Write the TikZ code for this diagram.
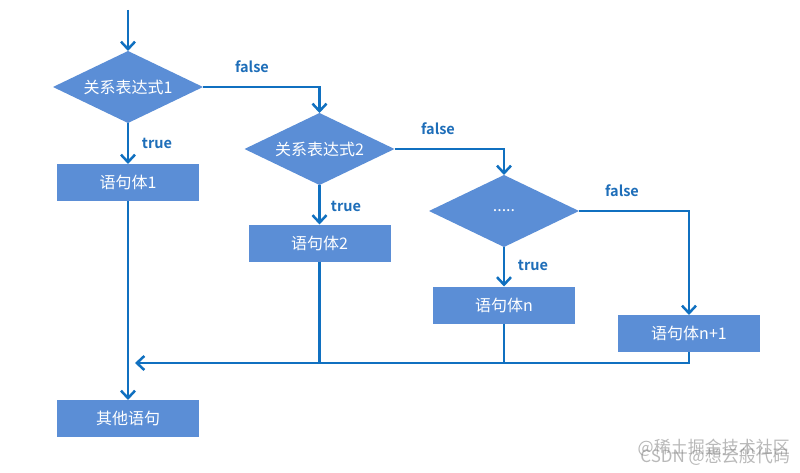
\documentclass[tikz,border=0pt]{standalone}
\usepackage{fontspec}
\newfontfamily\cjk{Noto Sans CJK SC}[BoldFont={Noto Sans CJK SC Bold}]
\usetikzlibrary{shapes.geometric,arrows.meta}
\definecolor{lineblue}{RGB}{16,112,192}
\definecolor{fillblue}{RGB}{91,142,214}
\definecolor{labblue}{RGB}{30,110,185}
\begin{document}
\begin{tikzpicture}[x=1pt,y=-1pt,
  cond/.style={diamond,fill=fillblue,draw=none,inner sep=0pt,outer sep=0pt,aspect=2,
    minimum width=150pt,minimum height=72pt,text=white,font=\cjk\fontsize{16}{19}\selectfont},
  stmt/.style={rectangle,fill=fillblue,draw=none,inner sep=0pt,outer sep=0pt,
    minimum width=142pt,minimum height=37pt,text=white,font=\cjk\fontsize{16}{19}\selectfont},
  lab/.style={text=labblue,font=\cjk\bfseries\fontsize{14.5}{17}\selectfont,inner sep=0pt},
  conn/.style={draw=lineblue,line width=2.5pt},
  arr/.style={conn,-{Straight Barb[length=7.5pt,width=14pt]}},
  wm/.style={text=gray,opacity=0.55,font=\cjk\fontsize{17}{19}\selectfont,inner sep=0pt}
]
\useasboundingbox[fill=white] (0,0) rectangle (800,473);

\coordinate (start) at (128,10);
\node[cond] (c1) at (128,87) {关系表达式1};
\node[stmt] (s1) at (128,182.5) {语句体1};
\node[cond] (c2) at (319.5,149) {关系表达式2};
\node[stmt] (s2) at (319.5,243) {语句体2};
\node[cond] (c3) at (504,211) {.....};
\node[stmt] (s3) at (504,305) {语句体n};
\node[stmt] (s4) at (689,333.5) {语句体n+1};
\node[stmt] (s5) at (128,418.5) {其他语句};

\coordinate (m2) at (319.5,363);
\coordinate (m3) at (504,363);
\coordinate (m4) at (689,363);
\coordinate (mL) at (135,363);

\draw[arr] (start) -- (c1.north);
\draw[arr] (c1.south) -- (s1.north);
\draw[arr] (c1.east) -| (c2.north);
\draw[arr] (c2.south) -- (s2.north);
\draw[arr] (c2.east) -| (c3.north);
\draw[arr] (c3.south) -- (s3.north);
\draw[arr] (c3.east) -| (s4.north);
\draw[arr] (s1.south) -- (s5.north);

\draw[conn] (s2.south) -- (m2);
\draw[conn] (s3.south) -- (m3);
\draw[conn] (s4.south) -- (m4) -- (m2);
\draw[arr] (m2) -- (mL);

\node[lab] (t1) at (157,143) {true};
\node[lab] (t2) at (346,206) {true};
\node[lab] (t3) at (533,265) {true};
\node[lab] (f1) at (252,67) {false};
\node[lab] (f2) at (438,129) {false};
\node[lab] (f3) at (622,191) {false};

\node[wm,anchor=east] (w1) at (790,448) {@稀土掘金技术社区};
\node[wm,anchor=east] (w2) at (790,457) {CSDN @想云般代码};
\end{tikzpicture}
\end{document}
